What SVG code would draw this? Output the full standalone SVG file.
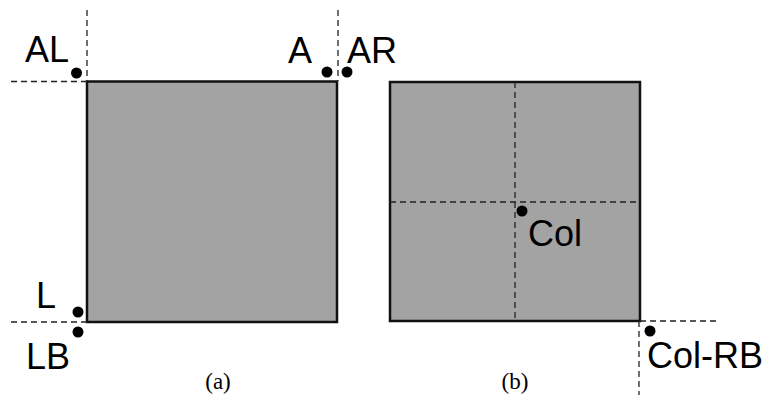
<svg xmlns="http://www.w3.org/2000/svg" width="768" height="398" viewBox="0 0 768 398">
<style>
.sq{fill:#a3a3a3;stroke:#111;stroke-width:2.5}
.dash{fill:none;stroke:#222;stroke-width:1.3;stroke-dasharray:6,4}
.dot{fill:#000}
.lbl{font-family:"Liberation Sans",Arial,sans-serif;font-size:36px;fill:#000}
.cap{font-family:"Liberation Serif","Times New Roman",serif;font-size:23px;fill:#000;text-anchor:middle}
</style>
<rect width="768" height="398" fill="#fff"/>
<g id="square-a">
<rect class="sq" x="87" y="81.5" width="250" height="240.5"/>
</g>
<g id="square-b">
<rect class="sq" x="390" y="82" width="250" height="239"/>
</g>
<g id="connectors">
<line class="dash" x1="87" y1="10" x2="87" y2="81"/>
<line class="dash" x1="11" y1="81.5" x2="87" y2="81.5"/>
<line class="dash" x1="338" y1="10" x2="338" y2="81"/>
<line class="dash" x1="11" y1="322" x2="87" y2="322"/>
<line class="dash" x1="515" y1="82" x2="515" y2="321"/>
<line class="dash" x1="390" y1="202" x2="640" y2="202"/>
<line class="dash" x1="640" y1="321" x2="717" y2="321"/>
<line class="dash" x1="639" y1="321" x2="639" y2="395"/>
</g>
<g id="AL">
<circle class="dot" cx="76.5" cy="73" r="5.5"/>
<text class="lbl" x="25" y="62">AL</text>
</g>
<g id="A">
<circle class="dot" cx="327" cy="72" r="5.5"/>
<text class="lbl" x="288" y="63">A</text>
</g>
<g id="AR">
<circle class="dot" cx="347" cy="72" r="5.5"/>
<text class="lbl" x="347" y="63">AR</text>
</g>
<g id="L">
<circle class="dot" cx="78" cy="312" r="5.5"/>
<text class="lbl" x="36" y="308">L</text>
</g>
<g id="LB">
<circle class="dot" cx="78" cy="332" r="5.5"/>
<text class="lbl" x="26" y="369">LB</text>
</g>
<g id="Col">
<circle class="dot" cx="522" cy="211" r="5.5"/>
<text class="lbl" x="528" y="246">Col</text>
</g>
<g id="Col-RB">
<circle class="dot" cx="650" cy="331" r="5.5"/>
<text class="lbl" x="647" y="368">Col-RB</text>
</g>
<g id="captions">
<text class="cap" x="218" y="389">(a)</text>
<text class="cap" x="515" y="389">(b)</text>
</g>
</svg>
